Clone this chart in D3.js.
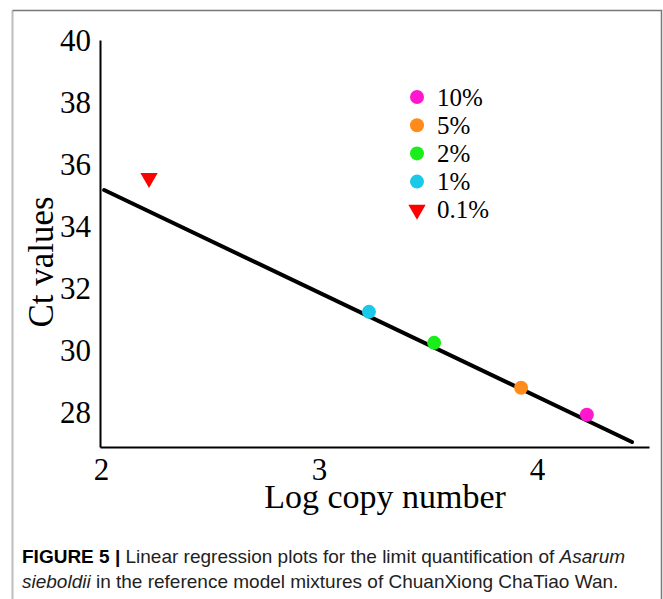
<!DOCTYPE html>
<html>
<head>
<meta charset="utf-8">
<script src="https://cdn.jsdelivr.net/npm/d3@7"></script>
<style>
html,body{margin:0;padding:0;background:#fff;}
svg{display:block;}
</style>
</head>
<body>
<svg id="chart" width="663" height="599"></svg>
<script>
// ---- data ----
const seriesLabels = ["10%", "5%", "2%", "1%", "0.1%"];
const seriesColors = ["#ff17cf", "#ff8c1a", "#1aee1a", "#1ac8e8", "#ff0000"];
const seriesShapes = ["circle", "circle", "circle", "circle", "triangle"];
const logCopyNumber = [4.229, 3.927, 3.528, 3.229, 2.22];
const ctValues = [27.94, 28.81, 30.26, 31.26, 35.58];
const fitX = [2.014, 4.436];
const fitY = [35.19, 27.06];
const xTicks = [2, 3, 4];
const yTicks = [28, 30, 32, 34, 36, 38, 40];
const captionBold = "FIGURE 5 |";
const captionLine1 = " Linear regression plots for the limit quantification of ";
const captionItalic1 = "Asarum";
const captionItalic2 = "sieboldii";
const captionLine2 = " in the reference model mixtures of ChuanXiong ChaTiao Wan.";

const svg = d3.select("#chart");
const serif = "'Liberation Serif','Times New Roman',serif";
const sans = "'Liberation Sans',Arial,sans-serif";

// frame
svg.append("path")
  .attr("d", "M12.5,599 L12.5,10.5")
  .attr("stroke", "#bdbdbd").attr("stroke-width", 2).attr("fill", "none");
svg.append("path")
  .attr("d", "M12.5,10.5 L661.5,10.5 L661.5,599")
  .attr("stroke", "#777").attr("stroke-width", 1.5).attr("fill", "none");

const x = d3.scaleLinear().domain([1.995, 4.514]).range([100, 649]);
const y = d3.scaleLinear().domain([26.9, 40.03]).range([447, 40]);

// axes
const xAxis = d3.axisBottom(x).tickValues(xTicks).tickFormat(d3.format("d")).tickSize(0).tickPadding(11);
const yAxis = d3.axisLeft(y).tickValues(yTicks).tickFormat(d3.format("d")).tickSize(0).tickPadding(9);

const gx = svg.append("g").attr("transform", "translate(0,447)").call(xAxis);
const gy = svg.append("g").attr("transform", "translate(100,0)").call(yAxis);
[gx, gy].forEach(g => {
  g.select(".domain").attr("stroke", "#000").attr("stroke-width", 2);
  g.selectAll("text").attr("font-family", serif).attr("font-size", 31).attr("fill", "#000");
});

// axis titles
svg.append("text").attr("x", 385).attr("y", 508).attr("text-anchor", "middle")
  .attr("font-family", serif).attr("font-size", 34).attr("fill", "#000").text("Log copy number");
svg.append("text").attr("transform", "translate(53,262) rotate(-90)").attr("text-anchor", "middle")
  .attr("font-family", serif).attr("font-size", 35).attr("fill", "#000").text("Ct values");

// regression line
svg.append("line")
  .attr("x1", x(fitX[0])).attr("y1", y(fitY[0]))
  .attr("x2", x(fitX[1])).attr("y2", y(fitY[1]))
  .attr("stroke", "#000").attr("stroke-width", 4).attr("stroke-linecap", "round");

// points
const tri = d3.symbol().type(d3.symbolTriangle).size(130);
seriesLabels.forEach((lab, i) => {
  if (seriesShapes[i] === "circle") {
    svg.append("circle").attr("cx", x(logCopyNumber[i])).attr("cy", y(ctValues[i])).attr("r", 7)
      .attr("fill", seriesColors[i]);
  } else {
    svg.append("path").attr("d", tri)
      .attr("transform", `translate(${x(logCopyNumber[i])},${y(ctValues[i])}) rotate(180)`)
      .attr("fill", seriesColors[i]);
  }
});

// legend
const leg = svg.append("g");
seriesLabels.forEach((lab, i) => {
  const cy = 97 + i * 28.2;
  if (seriesShapes[i] === "circle") {
    leg.append("circle").attr("cx", 417).attr("cy", cy).attr("r", 7).attr("fill", seriesColors[i]);
  } else {
    leg.append("path").attr("d", tri).attr("transform", `translate(417,${cy}) rotate(180)`).attr("fill", seriesColors[i]);
  }
  leg.append("text").attr("x", 437).attr("y", cy + 8.5).attr("font-family", serif).attr("font-size", 25)
    .attr("fill", "#000").text(lab);
});

// caption
const c1 = svg.append("text").attr("x", 22).attr("y", 563).attr("font-family", sans).attr("font-size", 19).attr("fill", "#222");
c1.append("tspan").attr("font-weight", "bold").attr("fill", "#000").text(captionBold);
c1.append("tspan").text(captionLine1);
c1.append("tspan").attr("font-style", "italic").text(captionItalic1);
const c2 = svg.append("text").attr("x", 22).attr("y", 588).attr("font-family", sans).attr("font-size", 19).attr("fill", "#222");
c2.append("tspan").attr("font-style", "italic").text(captionItalic2);
c2.append("tspan").text(captionLine2);
</script>
</body>
</html>
